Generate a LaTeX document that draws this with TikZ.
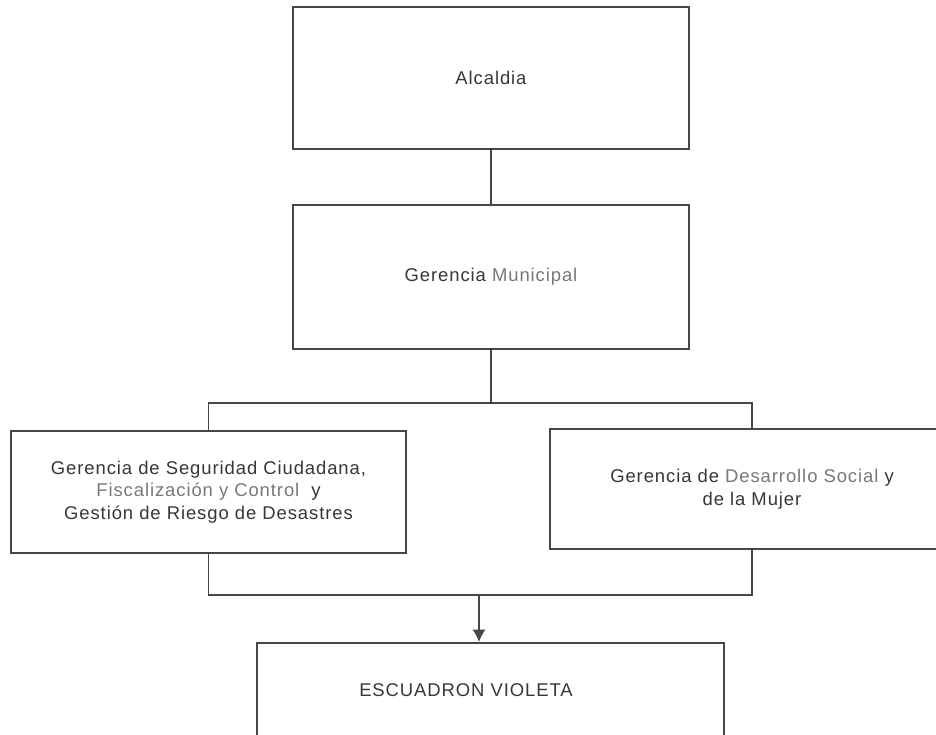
\documentclass[tikz,border=0pt]{standalone}
\usepackage{fontspec}
\setmainfont{Liberation Sans}[LetterSpace=5]
\usetikzlibrary{arrows.meta}
\definecolor{linegray}{RGB}{70,70,70}
\definecolor{txtgray}{RGB}{55,55,55}
\definecolor{softgray}{RGB}{120,120,120}
\begin{document}
\begin{tikzpicture}[>={Latex[length=7pt,width=7.5pt]},line width=1.1pt,color=linegray,
	unidad/.style={draw=linegray,fill=white,inner sep=0pt,align=center,text=txtgray,
		font=\fontsize{10.5}{12.8}\selectfont},
	claro/.style={text=softgray}]
\useasboundingbox (0,0) rectangle (18.72,-14.7);
\clip (0,0) rectangle (18.72,-14.7);
\node (alc) at (9.82,-1.56) [unidad,minimum width=7.92cm,minimum height=2.84cm] {Alcaldia};
\node (mun) at (9.82,-5.54) [unidad,minimum width=7.92cm,minimum height=2.88cm]
	{Gerencia \textcolor{softgray}{Municipal}};
\node (segu) at (4.17,-9.84) [unidad,minimum width=7.9cm,minimum height=2.44cm]
	{Gerencia de Seguridad Ciudadana,\\ \textcolor{softgray}{Fiscalización y Control}\ \ y\\ Gestión de Riesgo de Desastres};
\node (desa) at (15.04,-9.78) [unidad,minimum width=8.08cm,minimum height=2.4cm]
	{Gerencia de \textcolor{softgray}{Desarrollo Social} y\\ de la Mujer};
\node (esc) at (9.81,-14.86) [unidad,minimum width=9.34cm,minimum height=4cm] {};
\node (esctxt) at (9.32,-13.8) [text=txtgray,font=\fontsize{10.5}{12.8}\selectfont] {ESCUADRON VIOLETA};
% lineas de mando
\coordinate (split) at (9.82,-8.06);
\coordinate (join) at (9.58,-11.9);
\draw (alc) -- (mun);
\draw (mun.south) -- (split);
\draw (segu.north) |- (split) -| (desa.north);
\draw (segu.south) |- (join) -| (desa.south);
\draw[->] (join) -- (join |- esc.north);
\end{tikzpicture}
\end{document}
